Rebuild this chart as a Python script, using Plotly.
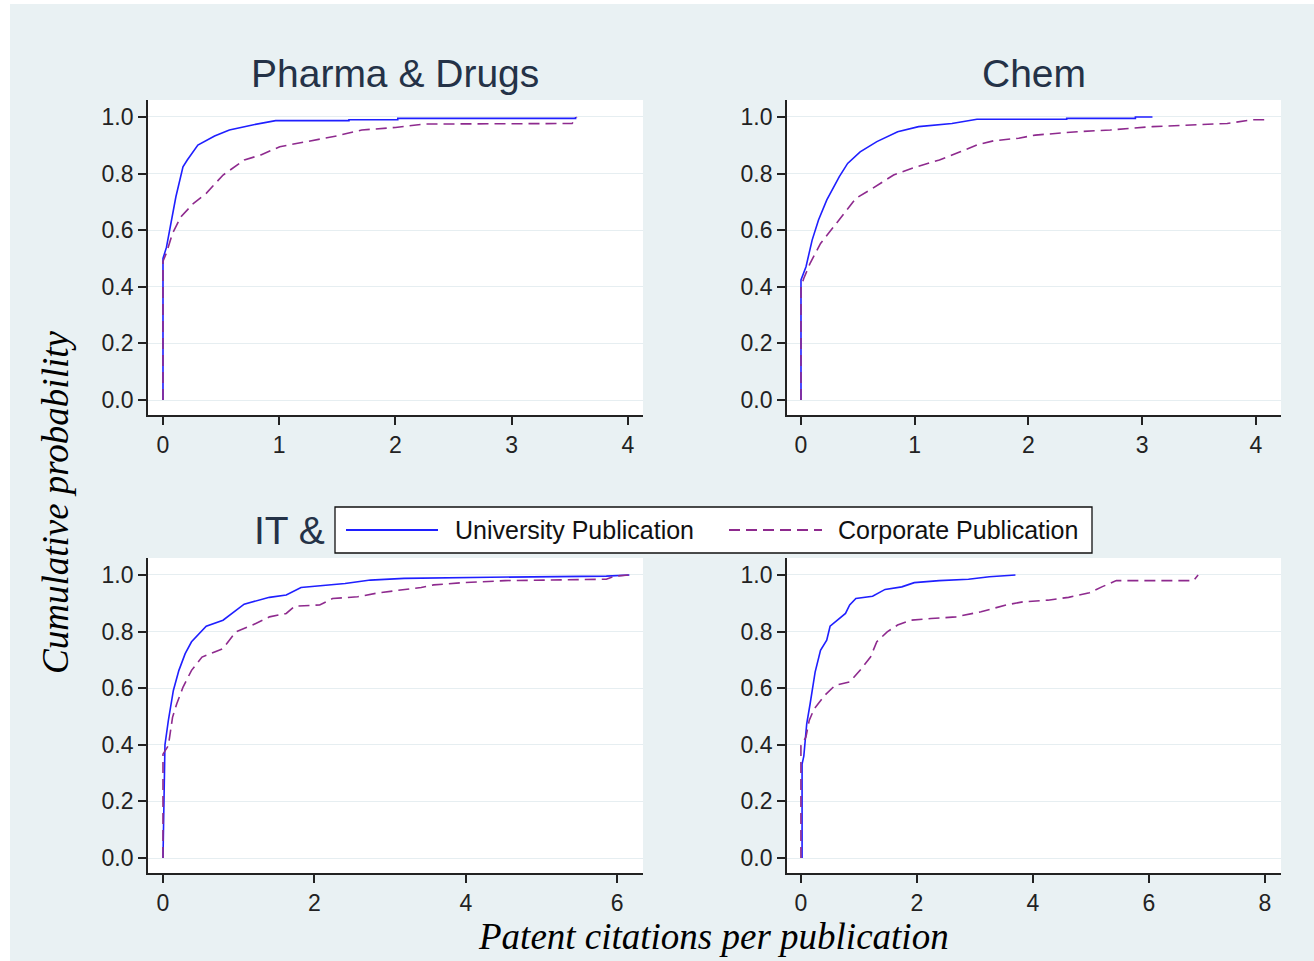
import plotly.graph_objects as go

# ---------------- data ----------------
panel_titles = ["Pharma & Drugs", "Chem", "IT &", ""]
series_names = ["University Publication", "Corporate Publication"]

pharma_univ_x = [0, 0, 0.03, 0.065, 0.111, 0.172, 0.209, 0.30, 0.444, 0.571, 0.77, 0.969, 1.60, 1.60, 2.02, 2.02, 3.55, 3.55]
pharma_univ_y = [0, 0.50, 0.54, 0.612, 0.718, 0.824, 0.848, 0.901, 0.933, 0.954, 0.972, 0.987, 0.987, 0.990, 0.990, 0.995, 0.995, 1.0]
pharma_corp_x = [0, 0, 0.028, 0.082, 0.155, 0.263, 0.372, 0.517, 0.70, 0.842, 1.005, 1.24, 1.494, 1.71, 2.0, 2.25, 3.52, 3.56]
pharma_corp_y = [0, 0.49, 0.518, 0.589, 0.648, 0.695, 0.730, 0.795, 0.848, 0.866, 0.895, 0.913, 0.933, 0.954, 0.963, 0.975, 0.977, 1.0]

chem_univ_x = [0, 0, 0.044, 0.098, 0.154, 0.227, 0.337, 0.41, 0.52, 0.667, 0.85, 1.034, 1.327, 1.547, 2.336, 2.336, 2.94, 2.94, 3.09]
chem_univ_y = [0, 0.424, 0.471, 0.565, 0.636, 0.707, 0.789, 0.836, 0.877, 0.913, 0.948, 0.966, 0.977, 0.992, 0.992, 0.995, 0.995, 1.0, 1.0]
chem_corp_x = [0, 0, 0.025, 0.08, 0.172, 0.264, 0.374, 0.484, 0.63, 0.814, 1.015, 1.217, 1.40, 1.547, 1.694, 1.914, 2.06, 2.43, 2.72, 3.09, 3.747, 3.97, 4.08, 4.08]
chem_corp_y = [0, 0.40, 0.43, 0.483, 0.553, 0.60, 0.654, 0.713, 0.748, 0.795, 0.824, 0.848, 0.877, 0.901, 0.916, 0.925, 0.936, 0.948, 0.954, 0.966, 0.977, 0.99, 0.99, 1.0]

it_univ_x = [0, 0.01, 0.026, 0.071, 0.137, 0.21, 0.293, 0.377, 0.571, 0.793, 1.072, 1.406, 1.628, 1.823, 2.07, 2.405, 2.74, 3.185, 4.325, 5.855, 6.16]
it_univ_y = [0, 0.18, 0.40, 0.486, 0.592, 0.663, 0.722, 0.764, 0.819, 0.84, 0.897, 0.921, 0.929, 0.956, 0.961, 0.97, 0.982, 0.988, 0.992, 0.996, 1.0]
it_corp_x = [0, 0, 0.071, 0.126, 0.182, 0.265, 0.377, 0.515, 0.682, 0.793, 0.961, 1.183, 1.406, 1.628, 1.739, 2.07, 2.24, 2.57, 2.85, 3.185, 3.41, 3.575, 3.965, 4.52, 5.855, 5.97, 6.15]
it_corp_y = [0, 0.367, 0.397, 0.497, 0.545, 0.604, 0.663, 0.71, 0.728, 0.74, 0.799, 0.823, 0.852, 0.864, 0.89, 0.894, 0.917, 0.923, 0.937, 0.949, 0.956, 0.965, 0.973, 0.98, 0.985, 0.996, 1.0]

other_univ_x = [0.02, 0.02, 0.05, 0.07, 0.1, 0.159, 0.245, 0.338, 0.445, 0.503, 0.66, 0.769, 0.841, 0.948, 1.236, 1.452, 1.74, 1.955, 2.386, 2.89, 3.25, 3.7]
other_univ_y = [0, 0.332, 0.36, 0.403, 0.474, 0.545, 0.657, 0.734, 0.77, 0.819, 0.846, 0.864, 0.894, 0.917, 0.925, 0.949, 0.958, 0.973, 0.98, 0.985, 0.994, 1.0]
other_corp_x = [0, 0, 0.086, 0.143, 0.229, 0.408, 0.589, 0.841, 1.02, 1.2, 1.309, 1.488, 1.667, 1.884, 2.243, 2.674, 3.107, 3.538, 3.826, 4.257, 4.616, 4.976, 5.19, 5.44, 6.77, 6.85]
other_corp_y = [0, 0.397, 0.427, 0.486, 0.527, 0.574, 0.61, 0.622, 0.663, 0.71, 0.764, 0.799, 0.823, 0.84, 0.846, 0.852, 0.87, 0.894, 0.905, 0.911, 0.921, 0.937, 0.958, 0.98, 0.98, 1.0]

x_tickvals = [[0, 1, 2, 3, 4], [0, 1, 2, 3, 4], [0, 2, 4, 6], [0, 2, 4, 6, 8]]
y_tickvals = [0, 0.2, 0.4, 0.6, 0.8, 1.0]

y_axis_title = "Cumulative probability"
x_axis_title = "Patent citations per publication"

# ---------------- layout geometry / style ----------------
W, H = 1314, 961
UNIV_COLOR = "#1f1fff"
CORP_COLOR = "#8e2a8e"
TITLE_COLOR = "#243247"
AXIS_COLOR = "#222222"
BG = "#e9f1f3"
CORP_DASH = "11px,6px"

def px_x(p):
    return p / W

def px_y(p):
    return 1 - p / H

x_domains = [[px_x(148), px_x(643)], [px_x(787), px_x(1281)],
             [px_x(148), px_x(643)], [px_x(787), px_x(1281)]]
y_domains = [[px_y(415), px_y(100)], [px_y(415), px_y(100)],
             [px_y(873), px_y(558)], [px_y(873), px_y(558)]]
x_ranges = [[-0.129, 4.13], [-0.123, 4.22], [-0.198, 6.34], [-0.24, 8.28]]
y_range = [-0.053, 1.06]

panels = [
    (pharma_univ_x, pharma_univ_y, pharma_corp_x, pharma_corp_y),
    (chem_univ_x, chem_univ_y, chem_corp_x, chem_corp_y),
    (it_univ_x, it_univ_y, it_corp_x, it_corp_y),
    (other_univ_x, other_univ_y, other_corp_x, other_corp_y),
]

fig = go.Figure()
for i, (ux, uy, cx, cy) in enumerate(panels):
    sfx = "" if i == 0 else str(i + 1)
    fig.add_trace(go.Scatter(
        x=ux, y=uy, mode="lines", name=series_names[0], legendgroup="u",
        showlegend=False, line=dict(color=UNIV_COLOR, width=1.6),
        xaxis="x" + sfx, yaxis="y" + sfx))
    fig.add_trace(go.Scatter(
        x=cx, y=cy, mode="lines", name=series_names[1], legendgroup="c",
        showlegend=False, line=dict(color=CORP_COLOR, width=1.6, dash=CORP_DASH),
        xaxis="x" + sfx, yaxis="y" + sfx))

tick_font = dict(family="Liberation Sans, Arial, sans-serif", size=23, color="#222222")
layout = dict(
    width=W, height=H,
    margin=dict(l=0, r=0, t=0, b=0),
    paper_bgcolor=BG, plot_bgcolor="white",
    font=dict(family="Liberation Sans, Arial, sans-serif"),
    showlegend=False,
)
for i in range(4):
    sfx = "" if i == 0 else str(i + 1)
    layout["xaxis" + sfx] = dict(
        domain=x_domains[i], range=x_ranges[i], anchor="y" + sfx,
        tickmode="array", tickvals=x_tickvals[i], ticks="outside", ticklen=8,
        tickwidth=1.5, tickcolor=AXIS_COLOR, showline=True, linecolor=AXIS_COLOR,
        linewidth=1.8, showgrid=False, zeroline=False, tickfont=tick_font,
        fixedrange=True)
    layout["yaxis" + sfx] = dict(
        domain=y_domains[i], range=y_range, anchor="x" + sfx,
        tickmode="array", tickvals=y_tickvals, tickformat=".1f", ticks="outside",
        ticklen=8, tickwidth=1.5, tickcolor=AXIS_COLOR, showline=True,
        linecolor=AXIS_COLOR, linewidth=1.8, showgrid=True, gridcolor="#e6eef1",
        gridwidth=1.2, zeroline=False, tickfont=tick_font, fixedrange=True)

fig.update_layout(**layout)

annotations = []
title_font = dict(family="Liberation Sans, Arial, sans-serif", size=39, color=TITLE_COLOR)
for i, t in enumerate(panel_titles):
    if not t:
        continue
    if i == 2:
        annotations.append(dict(text=t, xref="paper", yref="paper", x=px_x(327), y=px_y(530),
                                xanchor="right", yanchor="middle", showarrow=False, font=title_font))
    else:
        cx = (x_domains[i][0] + x_domains[i][1]) / 2
        annotations.append(dict(text=t, xref="paper", yref="paper", x=cx, y=px_y(73),
                                xanchor="center", yanchor="middle", showarrow=False, font=title_font))
serif_font = dict(family="Liberation Serif, Times New Roman, serif", size=37, color="#000000", style="italic")
annotations.append(dict(text=y_axis_title, xref="paper", yref="paper", x=px_x(55), y=px_y(503),
                        xanchor="center", yanchor="middle", textangle=-90, showarrow=False, font=serif_font))
annotations.append(dict(text=x_axis_title, xref="paper", yref="paper", x=px_x(713), y=px_y(959),
                        xanchor="center", yanchor="bottom", showarrow=False, font=serif_font))

# legend (drawn as a boxed key over the lower panels, as in the reference)
legend_font = dict(family="Liberation Sans, Arial, sans-serif", size=25, color="#111111")
annotations.append(dict(text=series_names[0], xref="paper", yref="paper", x=px_x(453), y=px_y(530),
                        xanchor="left", yanchor="middle", showarrow=False, font=legend_font))
annotations.append(dict(text=series_names[1], xref="paper", yref="paper", x=px_x(836), y=px_y(530),
                        xanchor="left", yanchor="middle", showarrow=False, font=legend_font))
fig.update_layout(annotations=annotations)

shapes = [
    # white page strips outside the light panel (left and top edges)
    dict(type="rect", xref="paper", yref="paper", x0=0, x1=px_x(10), y0=0, y1=1,
         fillcolor="white", line=dict(width=0), layer="below"),
    dict(type="rect", xref="paper", yref="paper", x0=0, x1=1, y0=px_y(4), y1=1,
         fillcolor="white", line=dict(width=0), layer="below"),
    # legend box and keys
    dict(type="rect", xref="paper", yref="paper", x0=px_x(335), x1=px_x(1092),
         y0=px_y(553), y1=px_y(507), fillcolor="white",
         line=dict(color="#111111", width=1.3), layer="above"),
    dict(type="line", xref="paper", yref="paper", x0=px_x(346), x1=px_x(438),
         y0=px_y(530), y1=px_y(530), line=dict(color=UNIV_COLOR, width=1.8), layer="above"),
    dict(type="line", xref="paper", yref="paper", x0=px_x(729), x1=px_x(822),
         y0=px_y(530), y1=px_y(530), line=dict(color=CORP_COLOR, width=1.8, dash=CORP_DASH),
         layer="above"),
]
fig.update_layout(shapes=shapes)

fig.write_html("out.html", config={"displayModeBar": False},
               post_script="document.body.style.margin='0';document.body.style.overflow='hidden';")
